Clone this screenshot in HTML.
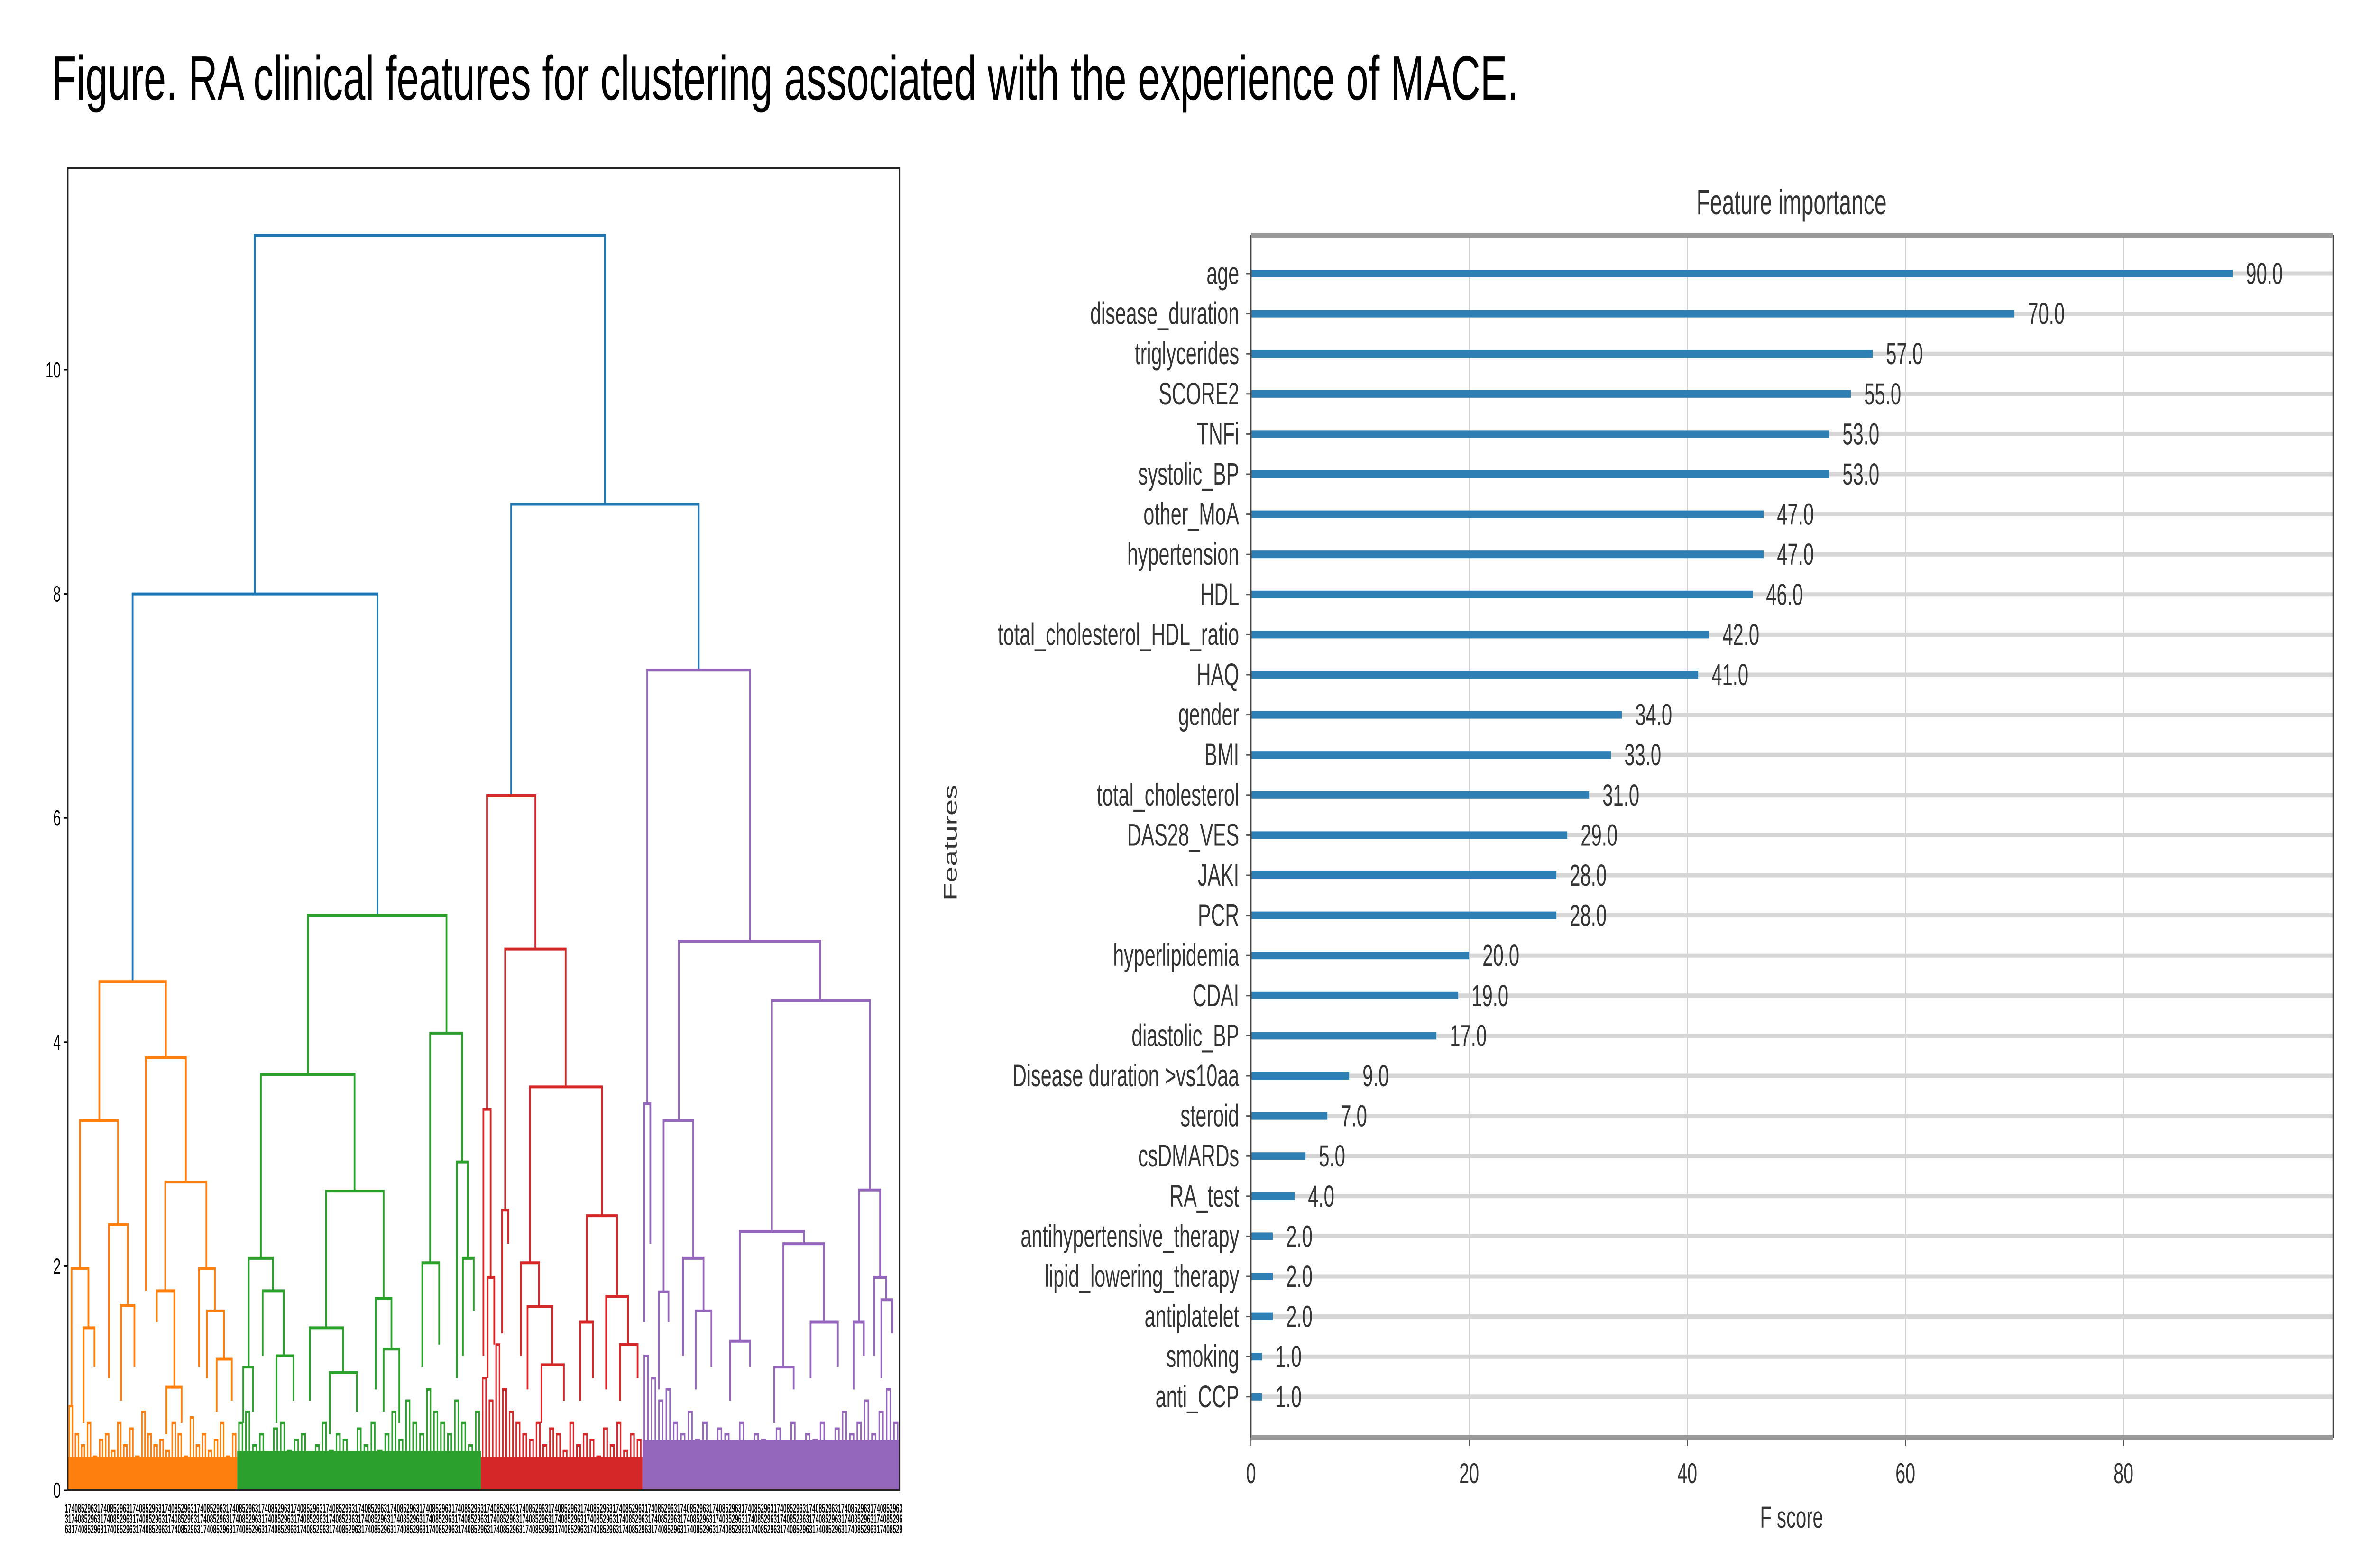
<!DOCTYPE html>
<html><head><meta charset="utf-8"><style>
html,body{margin:0;padding:0;background:#fff;width:100%;height:100%;overflow:hidden;}
svg{display:block;width:100vw;height:100vh;}
text{font-family:"Liberation Sans",sans-serif;}
</style></head><body>
<svg id="fig" viewBox="0 0 8000 3307" preserveAspectRatio="none" xmlns="http://www.w3.org/2000/svg">
<rect width="8000" height="3307" fill="#fff"/>
<text x="175" y="210" font-size="132" fill="#000" textLength="4948" lengthAdjust="spacingAndGlyphs">Figure. RA clinical features for clustering associated with the experience of MACE.</text>
<g id="dendro"></g>
<g id="bars"></g>
</svg>
<script>
// ---------- Dendrogram data ----------
// link: [leftPos, rightPos, mergeHeight, leftChildHeight, rightChildHeight, colorIndex]
const dendroColors = ["#1f77b4","#ff7f0e","#2ca02c","#d62728","#9467bd"];
const dendroTicks = [0,2,4,6,8,10];
const dendroLinks = [
 [421,1000,11.2,8.0,8.8,0],
 [219,624,8.0,4.54,5.13,0],
 [845,1155,8.8,6.2,7.32,0],
 [164,274,4.54,3.3,3.86,1],
 [241,307,3.86,1.78,2.75,1],
 [132,195,3.3,1.98,2.37,1],
 [118,146,1.98,0.75,1.45,1],
 [138,156,1.45,0.6,1.1,1],
 [180,211,2.37,1.0,1.65,1],
 [200,222,1.65,0.8,1.1,1],
 [273,341,2.75,1.78,1.98,1],
 [259,288,1.78,1.5,0.92,1],
 [275,300,0.92,0.5,0.6,1],
 [329,355,1.98,1.1,1.6,1],
 [342,370,1.6,1.0,1.17,1],
 [358,383,1.17,0.7,0.8,1],
 [509,738,5.13,3.71,4.08,2],
 [431,586,3.71,2.07,2.67,2],
 [411,451,2.07,1.1,1.78,2],
 [402,418,1.1,0.6,0.7,2],
 [434,469,1.78,1.2,1.2,2],
 [457,485,1.2,0.6,0.8,2],
 [539,634,2.67,1.45,1.71,2],
 [512,567,1.45,0.8,1.05,2],
 [545,590,1.05,0.5,0.7,2],
 [621,647,1.71,0.9,1.26,2],
 [634,660,1.26,0.7,0.6,2],
 [711,764,4.08,2.03,2.93,2],
 [698,726,2.03,1.1,1.3,2],
 [755,773,2.93,1.0,2.07,2],
 [765,783,2.07,1.2,1.6,2],
 [805,885,6.2,3.4,4.83,3],
 [799,811,3.4,1.2,1.9,3],
 [806,817,1.9,1.0,1.3,3],
 [835,935,4.83,2.5,3.6,3],
 [830,840,2.5,1.4,2.2,3],
 [876,995,3.6,2.03,2.45,3],
 [861,891,2.03,1.2,1.64,3],
 [872,913,1.64,0.9,1.12,3],
 [895,932,1.12,0.6,0.8,3],
 [970,1020,2.45,1.5,1.73,3],
 [959,980,1.5,0.8,1.0,3],
 [1002,1038,1.73,0.9,1.3,3],
 [1025,1054,1.3,0.8,1.0,3],
 [1070,1240,7.32,3.45,4.9,4],
 [1065,1075,3.45,1.5,2.2,4],
 [1122,1356,4.9,3.3,4.37,4],
 [1097,1146,3.3,1.77,2.07,4],
 [1089,1105,1.77,0.9,1.5,4],
 [1129,1163,2.07,1.2,1.6,4],
 [1150,1176,1.6,0.9,1.1,4],
 [1276,1438,4.37,2.31,2.68,4],
 [1223,1329,2.31,1.33,2.2,4],
 [1207,1240,1.33,0.8,1.1,4],
 [1295,1362,2.2,1.1,1.5,4],
 [1280,1312,1.1,0.6,0.9,4],
 [1340,1385,1.5,1.0,1.1,4],
 [1420,1455,2.68,1.5,1.9,4],
 [1411,1428,1.5,0.9,1.2,4],
 [1445,1465,1.9,1.2,1.7,4],
 [1457,1475,1.7,1.0,1.4,4]
];
// leaf-level clusters: [start, end, colorIndex]
const clusterRanges = [[112,392,1],[392,795,2],[795,1062,3],[1062,1487,4]];
// small merge heights near leaves (per cluster, read approximately)
const fuzzOrange = [0.75,0.5,0.4,0.6,0.3,0.45,0.5,0.35,0.6,0.4,0.55,0.3,0.7,0.5,0.4,0.45,0.35,0.6,0.5,0.3,0.65,0.4,0.5,0.35,0.45,0.6,0.3,0.5];
const fuzzGreen = [0.6,0.7,0.4,0.5,0.3,0.55,0.6,0.35,0.45,0.5,0.3,0.4,0.6,0.35,0.5,0.45,0.3,0.55,0.4,0.6,0.35,0.5,0.7,0.45,0.8,0.6,0.5,0.9,0.7,0.6,0.5,0.8,0.6,0.4,0.7];
const fuzzRed = [1.0,0.8,1.3,0.9,0.7,0.6,0.5,0.45,0.6,0.4,0.55,0.5,0.35,0.6,0.4,0.5,0.45,0.3,0.55,0.4,0.6,0.35,0.5,0.45];
const fuzzPurple = [1.2,1.0,0.8,0.9,0.6,0.5,0.7,0.45,0.6,0.4,0.55,0.5,0.35,0.6,0.4,0.5,0.45,0.3,0.55,0.4,0.6,0.35,0.5,0.45,0.6,0.4,0.55,0.7,0.5,0.6,0.8,0.5,0.7,0.9,0.6];
const fuzzSets = [fuzzOrange, fuzzGreen, fuzzRed, fuzzPurple];
const fuzzBase = [0.3,0.35,0.3,0.45];

// ---------- Feature importance data ----------
const features = ["age","disease_duration","triglycerides","SCORE2","TNFi","systolic_BP","other_MoA","hypertension","HDL","total_cholesterol_HDL_ratio","HAQ","gender","BMI","total_cholesterol","DAS28_VES","JAKI","PCR","hyperlipidemia","CDAI","diastolic_BP","Disease duration >vs10aa","steroid","csDMARDs","RA_test","antihypertensive_therapy","lipid_lowering_therapy","antiplatelet","smoking","anti_CCP"];
const fscores = [90,70,57,55,53,53,47,47,46,42,41,34,33,31,29,28,28,20,19,17,9,7,5,4,2,2,2,1,1];
const xTicks = [0,20,40,60,80];

const NS = "http://www.w3.org/2000/svg";
function mk(parent, tag, attrs, txt){
  const e = document.createElementNS(NS, tag);
  for (const k in attrs) e.setAttribute(k, attrs[k]);
  if (txt !== undefined) e.textContent = txt;
  parent.appendChild(e);
  return e;
}

// ---------- Dendrogram ----------
(function(){
  const g = document.getElementById('dendro');
  const L = 229, R = 3035, T = 354, B = 3143;
  const xS = v => L + (v - 112) / (1487 - 112) * (R - L);
  const yS = v => B - v * 236.3;
  dendroTicks.forEach(t => {
    const tk = mk(g, 'line', {x1:L-14, x2:L, y1:yS(t), y2:yS(t), stroke:'#000','stroke-width':3});
    
    
    const tl = mk(g, 'text', {x:L-24, y:yS(t)+16, 'font-size':46, 'text-anchor':'end', fill:'#000'}, String(t));
    
    
  });
  clusterRanges.forEach((c, ci) => {
    const col = dendroColors[c[2]];
    const band = mk(g, 'rect', {x:xS(c[0]), y:yS(fuzzBase[ci]), width:xS(c[1])-xS(c[0]), height:yS(0)-yS(fuzzBase[ci]), fill:col});
    
    
    const arr = fuzzSets[ci];
    const step = (c[1]-c[0]) / arr.length;
    arr.forEach((h, i) => {
      const a = c[0] + step*(i+0.25), b = c[0] + step*(i+0.75);
      const p = mk(g, 'path', {d:`M${xS(a)},${yS(0)}V${yS(h)}H${xS(b)}V${yS(0)}`, fill:'none', stroke:col, 'stroke-width':5});
      
      
    });
  });
  dendroLinks.forEach(l => {
    const p = mk(g, 'path', {d:`M${xS(l[0])},${yS(l[3])}V${yS(l[2])}H${xS(l[1])}V${yS(l[4])}`, fill:'none', stroke:dendroColors[l[5]], 'stroke-width':6});
    
    
  });
  const fr = mk(g, 'rect', {x:L, y:T, width:R-L, height:B-T, fill:'none', stroke:'#222', 'stroke-width':4});
  
  
  const digits = "1023456789";
  for (let r = 0; r < 3; r++) {
    let s = "";
    for (let i = 0; i < 260; i++) s += digits[(i*7 + r*3) % 10];
    const t = mk(g, 'text', {x:L-10, y:3190 + r*22, 'font-size':26, 'font-weight':'bold', fill:'#000', textLength:R-L+20, lengthAdjust:'spacingAndGlyphs'}, s);
    
    
  }
})();

// ---------- Feature importance ----------
(function(){
  const g = document.getElementById('bars');
  const L = 4221, R = 7872, T = 496, B = 3032;
  const xS = v => L + v * 36.8;
  const y0 = 577, dy = 84.6;
  const yS = i => y0 + i * dy;
  xTicks.forEach(t => {
    const gl = mk(g, 'line', {x1:xS(t), x2:xS(t), y1:T, y2:B, stroke:'#d0d0d0','stroke-width':3});
    
    
    const tk = mk(g, 'line', {x1:xS(t), x2:xS(t), y1:B, y2:B+18, stroke:'#555','stroke-width':3});
    
    
    const tl = mk(g, 'text', {x:xS(t), y:3128, 'font-size':60, 'text-anchor':'middle', fill:'#333'}, String(t));
    
    
  });
  features.forEach((f, i) => {
    const y = yS(i);
    const gl = mk(g, 'line', {x1:L, x2:R, y1:y, y2:y, stroke:'#d6d6d6','stroke-width':9});
    
    
    const tk = mk(g, 'line', {x1:L-16, x2:L, y1:y, y2:y, stroke:'#555','stroke-width':3});
    
    
    const bar = mk(g, 'rect', {x:L, y:y-8, width:xS(fscores[i])-L, height:16, fill:'#2e7fb3'});
    
    
    const lab = mk(g, 'text', {x:L-40, y:y+22, 'font-size':66, 'text-anchor':'end', fill:'#333'}, f);
    
    
    const val = mk(g, 'text', {x:xS(fscores[i])+45, y:y+22, 'font-size':64, fill:'#333'}, fscores[i].toFixed(1));
    
    
  });
  const sl = mk(g, 'line', {x1:L, x2:L, y1:T, y2:B, stroke:'#444','stroke-width':4});
   
  const sr = mk(g, 'line', {x1:R, x2:R, y1:T, y2:B, stroke:'#444','stroke-width':4});
   
  const st = mk(g, 'line', {x1:L, x2:R, y1:T, y2:T, stroke:'#999','stroke-width':10});
   
  const sb = mk(g, 'line', {x1:L, x2:R, y1:B, y2:B, stroke:'#999','stroke-width':12});
   
  const tt = mk(g, 'text', {x:6045, y:452, 'font-size':74, 'text-anchor':'middle', fill:'#333'}, 'Feature importance');
   
  const xt = mk(g, 'text', {x:6045, y:3222, 'font-size':64, 'text-anchor':'middle', fill:'#333'}, 'F score');
   
  const yt = mk(g, 'text', {x:3228, y:1777, 'font-size':62, 'text-anchor':'middle', fill:'#333', transform:'rotate(-90 3228 1777)'}, 'Features');
   
})();
</script>
</body></html>
